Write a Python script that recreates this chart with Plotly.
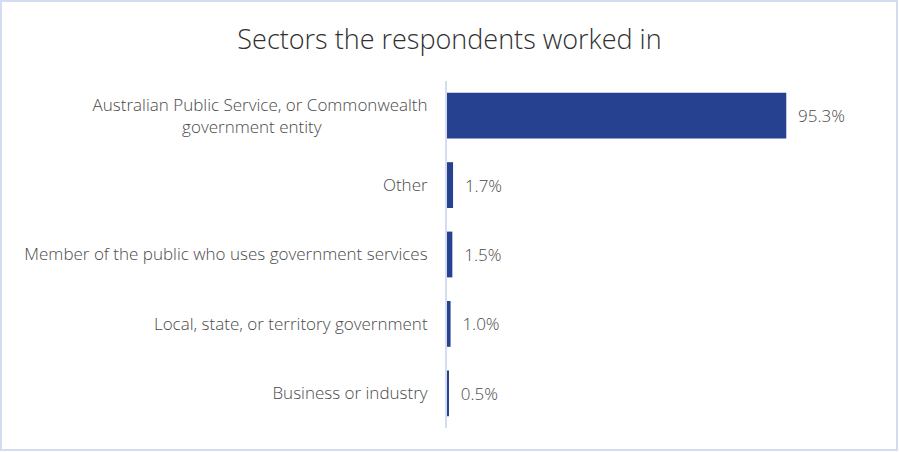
import plotly.graph_objects as go

categories = [
    "Australian Public Service, or Commonwealth<br>government entity" + "\u00a0" * 24,
    "Other",
    "Member of the public who uses government services",
    "Local, state, or territory government",
    "Business or industry",
]
values = [95.3, 1.7, 1.5, 1.0, 0.5]
labels = ["95.3%", "1.7%", "1.5%", "1.0%", "0.5%"]

W, H = 899, 452
L, R, T, B = 447, 96, 81, 24
FONT = "Open Sans, Noto Sans, sans-serif"
BORDER = "#D6DCEF"

fig = go.Figure(go.Bar(
    y=categories,
    x=values,
    orientation="h",
    marker=dict(color="#25418F", line=dict(width=0)),
    width=0.66,
    text=["\u00a0\u00a0" + t for t in labels],
    textposition="outside",
    textfont=dict(family=FONT, size=17, color="#4a4a4a", weight=300),
    cliponaxis=False,
))

pw = W - L - R
ph = H - T - B
fig.add_shape(type="rect", xref="paper", yref="paper",
              x0=(1 - L) / pw, x1=(W - 2 - L) / pw,
              y0=(2 - B) / ph, y1=(H - 1 - B) / ph,
              line=dict(color=BORDER, width=2), fillcolor="rgba(0,0,0,0)", layer="below")

fig.update_layout(
    width=W, height=H,
    margin=dict(l=L, r=R, t=T, b=B),
    paper_bgcolor="white", plot_bgcolor="white",
    title=dict(text="Sectors the respondents worked in", x=0.5, xanchor="center",
               y=1 - 40 / H, yanchor="middle",
               font=dict(family=FONT, size=27, color="#303030", weight=300)),
    xaxis=dict(range=[0, 100], visible=False, fixedrange=True),
    yaxis=dict(autorange="reversed", showline=True, linecolor=BORDER, linewidth=2,
               showgrid=False, zeroline=False, ticks="", ticklabelstandoff=14,
               fixedrange=True,
               tickfont=dict(family=FONT, size=17, color="#4a4a4a", weight=300)),
    showlegend=False,
)

fig.write_html("out.html", config={"displayModeBar": False},
               post_script="document.body.style.margin='0';")
